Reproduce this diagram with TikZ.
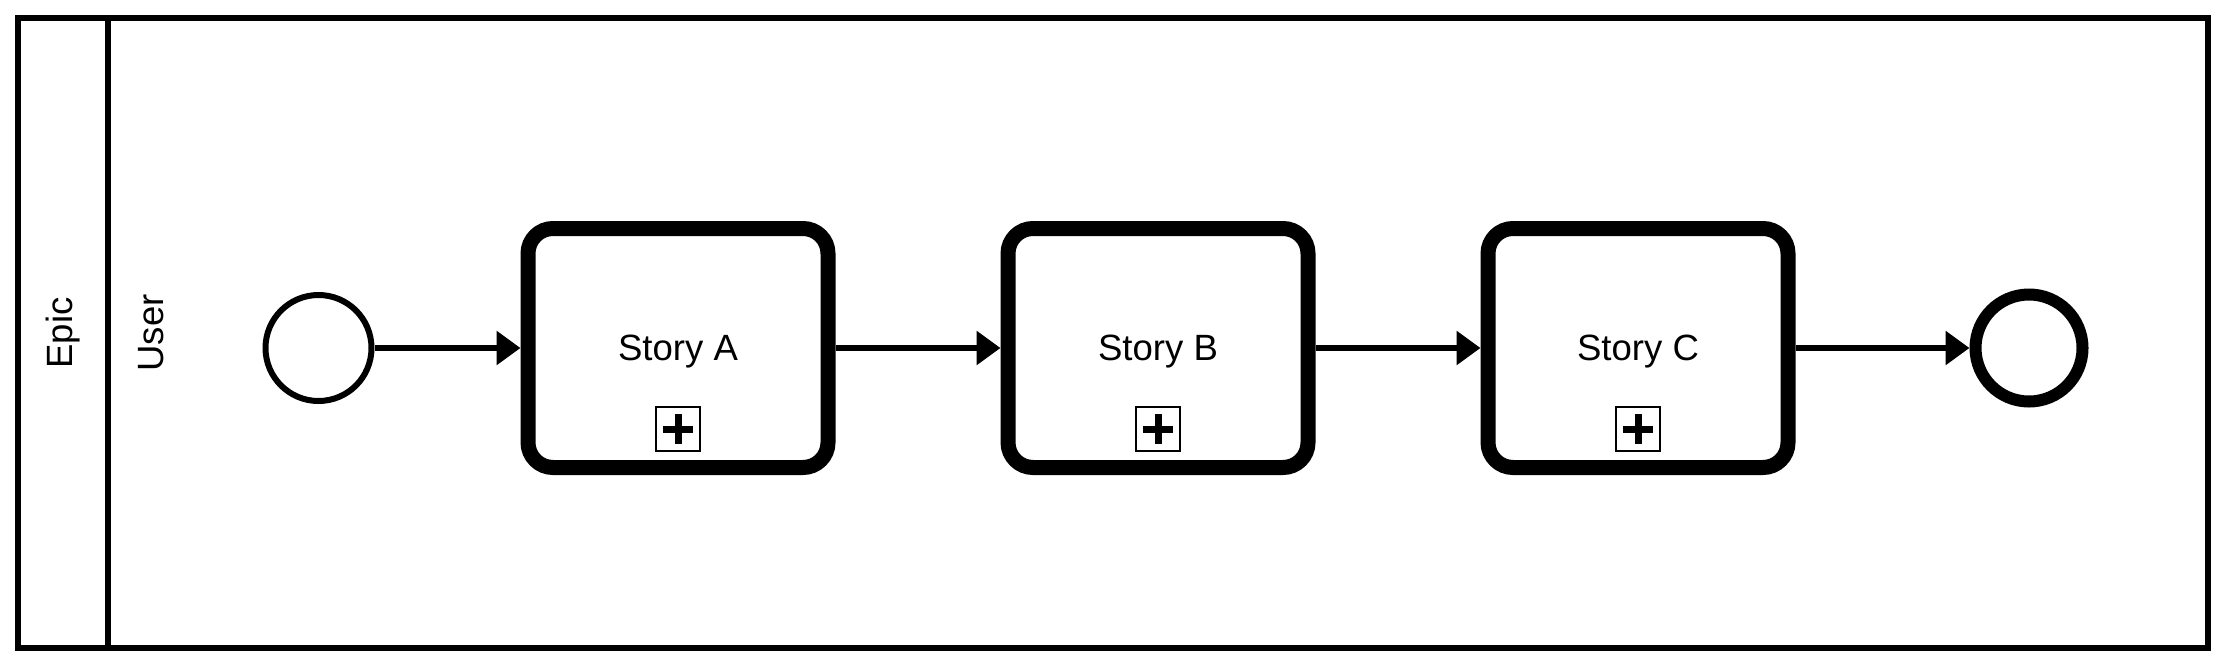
\documentclass[tikz,border=0pt]{standalone}
\usepackage{fontspec}
\setmainfont{Liberation Sans}
\usetikzlibrary{positioning}
\usetikzlibrary{arrows.meta}

\begin{document}
\begin{tikzpicture}[
	font=\fontsize{10.4}{12}\selectfont,
	node distance=1.65cm,
	story/.style={draw, rounded corners=0.25cm, line width=0.15cm, minimum width=3cm, minimum height=2.39cm, text depth=0pt},
	startevent/.style={draw, circle, line width=0.06cm, minimum size=1.06cm, inner sep=0pt},
	endevent/.style={draw, circle, line width=0.12cm, minimum size=1.07cm, inner sep=0pt},
	collapsed/.style={draw, line width=0.02cm, minimum size=0.44cm, inner sep=0pt,
		path picture={\draw[line width=0.07cm]
			([xshift=-0.15cm]path picture bounding box.center) -- ([xshift=0.15cm]path picture bounding box.center)
			([yshift=-0.15cm]path picture bounding box.center) -- ([yshift=0.15cm]path picture bounding box.center);}},
	flow/.style={line width=0.06cm, -{Triangle[length=0.24cm,width=0.33cm]}}
	]
	\useasboundingbox (0,0) rectangle (22.26,6.66);

	% Pool and lane
	\draw[line width=0.06cm] (0.18,0.18) rectangle (22.08,6.48);
	\draw[line width=0.06cm] (1.08,0.18) -- (1.08,6.48);
	\node[rotate=90] (epic) at (0.63,3.33) {Epic};
	\node[rotate=90] (user) at (1.51,3.33) {User};

	% Stories
	\node[story] (storyA) at (6.78,3.18) {Story A};
	\node[story, right=of storyA] (storyB) {Story B};
	\node[story, right=of storyB] (storyC) {Story C};
	\foreach \s in {A,B,C}
		\node[collapsed] (plus\s) at ([yshift=-0.81cm]story\s.center) {};

	% Events
	\node[startevent, left=1.46cm of storyA] (start) {};
	\node[endevent, right=1.74cm of storyC] (finish) {};

	% Sequence flows
	\draw[flow] (start) -- (storyA);
	\draw[flow] (storyA) -- (storyB);
	\draw[flow] (storyB) -- (storyC);
	\draw[flow] (storyC) -- (finish);
\end{tikzpicture}
\end{document}
